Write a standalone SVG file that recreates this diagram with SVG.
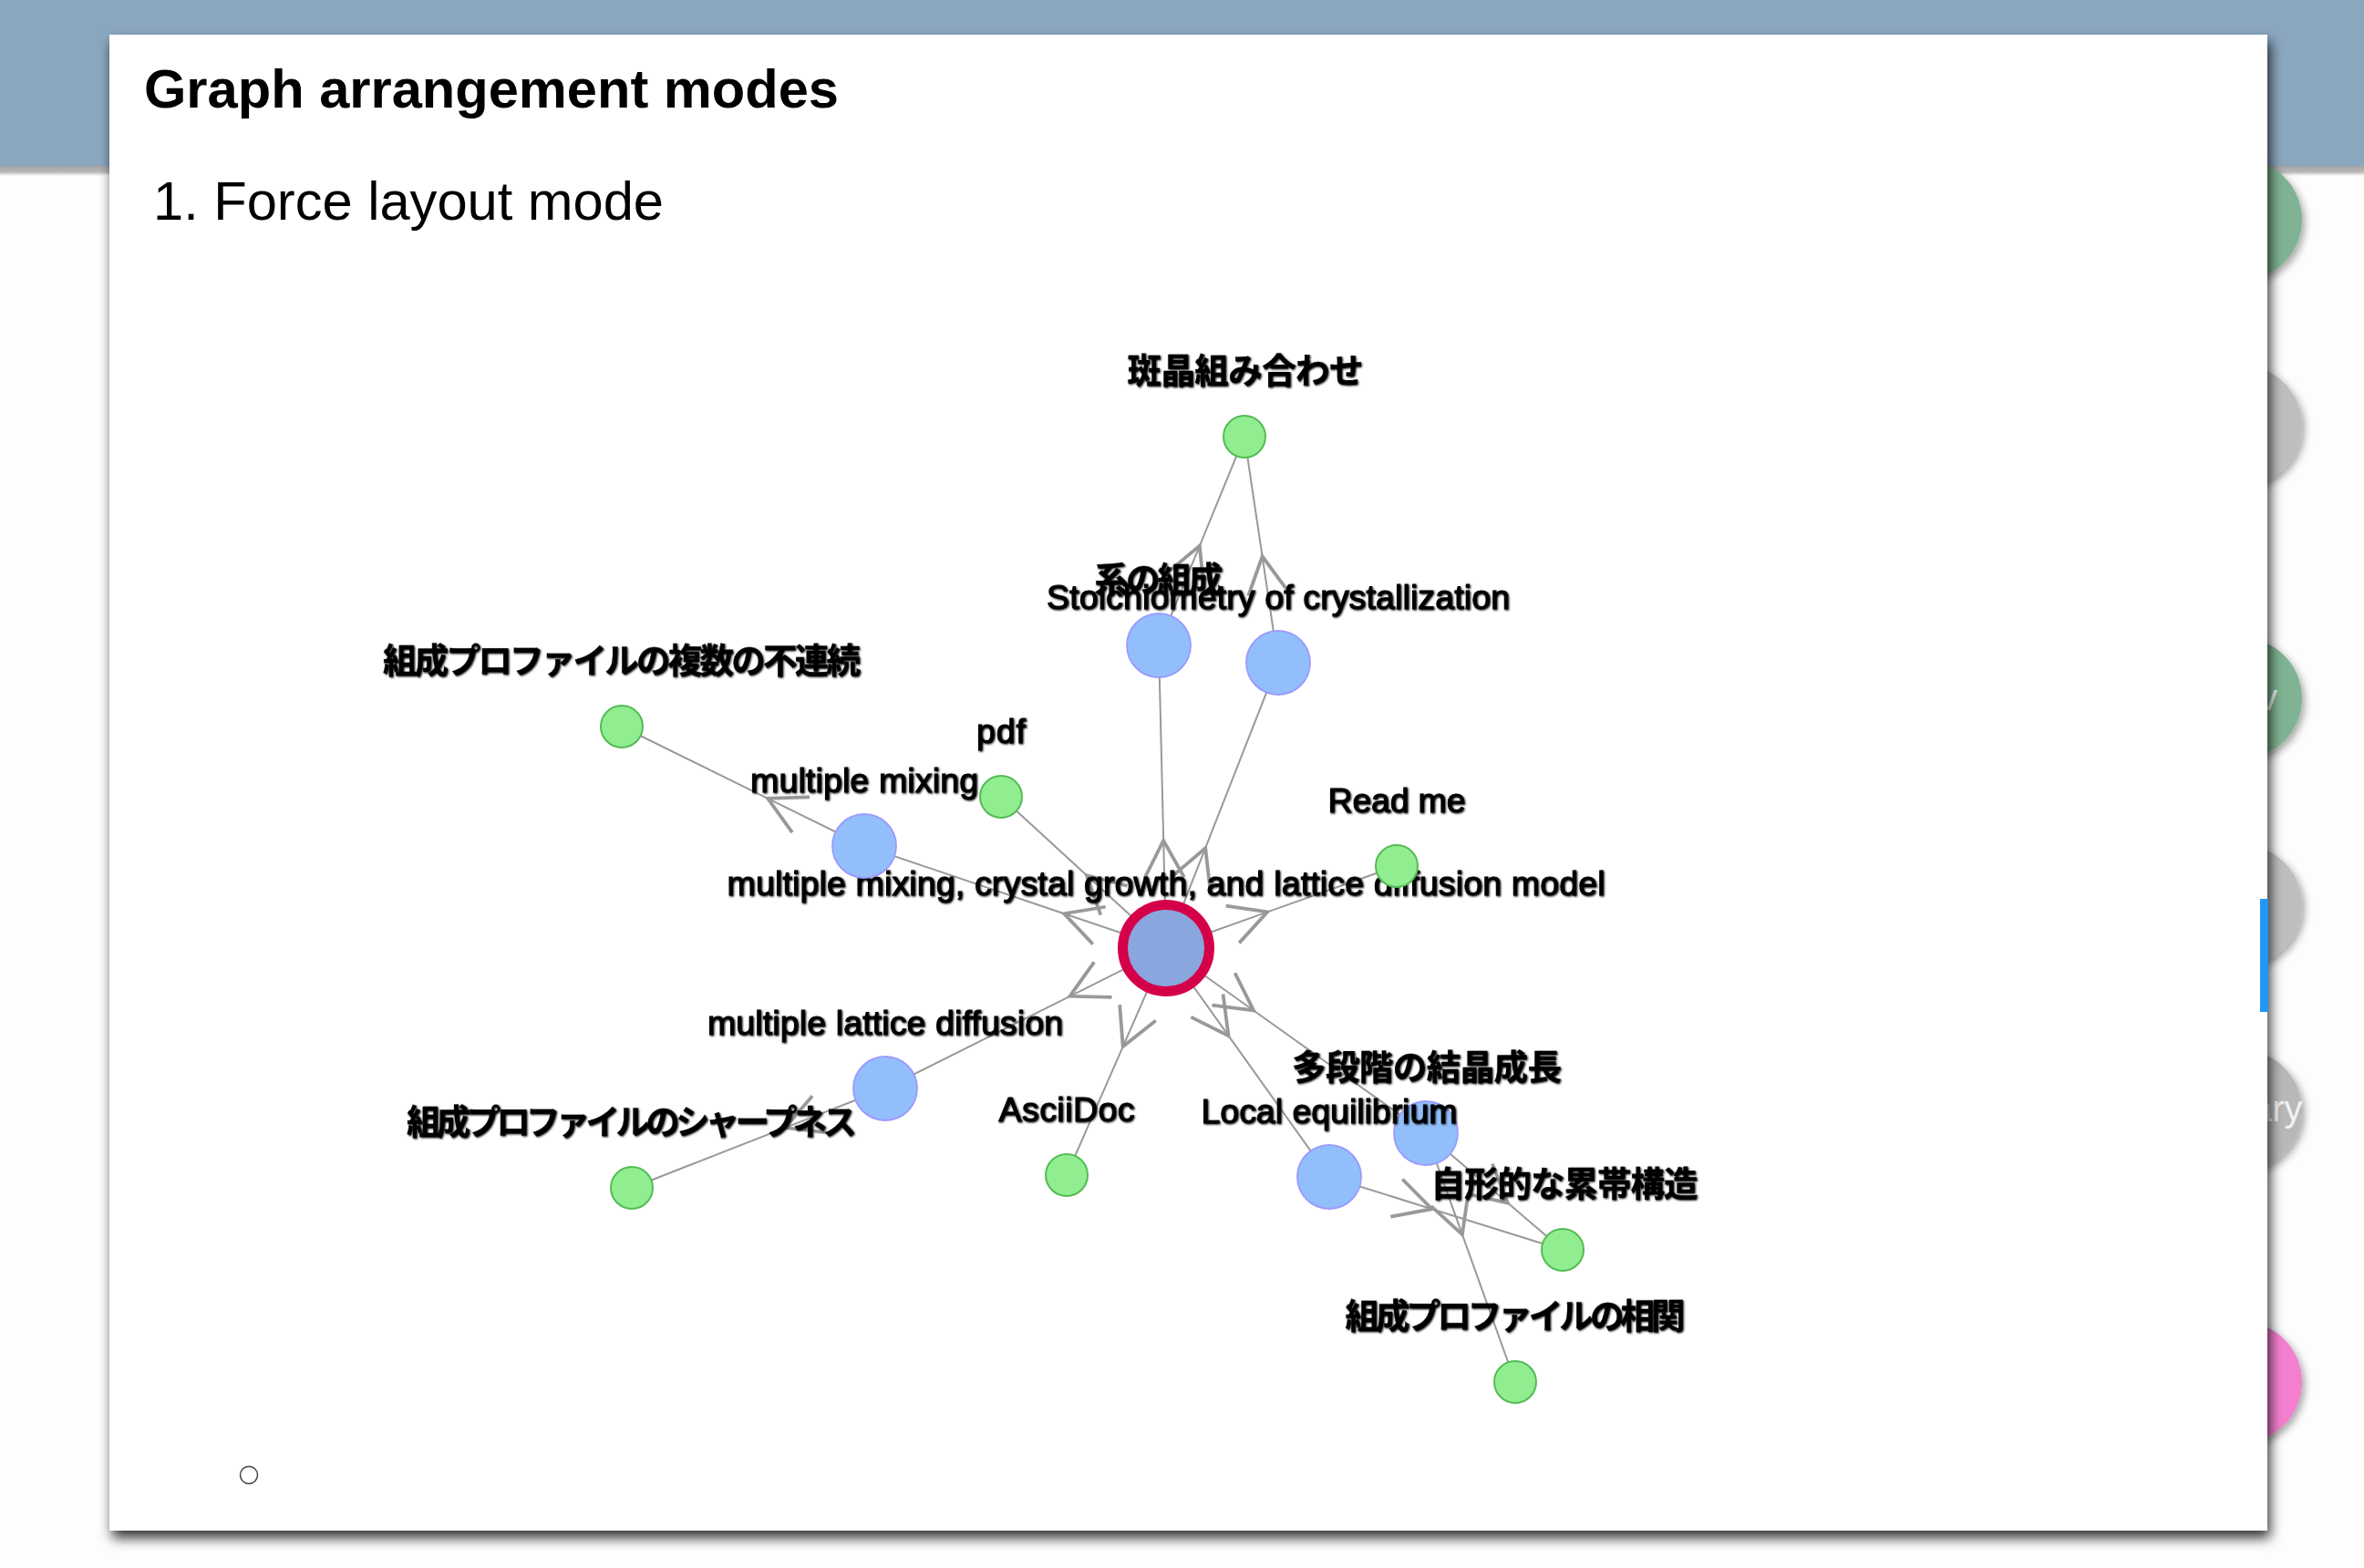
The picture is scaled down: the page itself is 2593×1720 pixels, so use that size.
<svg xmlns="http://www.w3.org/2000/svg" width="2593" height="1720" viewBox="0 0 2593 1720">
<style>
.lbl{font-family:"Liberation Sans",Arial,"Noto Sans CJK JP",sans-serif;font-size:37.5px;fill:#000;stroke:#000;stroke-width:1px;text-anchor:middle}
.jp{font-family:"Liberation Sans","Noto Sans CJK JP",sans-serif;font-weight:bold;stroke-width:0.3px}
.edge{fill:none;stroke:#999;stroke-width:2;marker-mid:url(#arr)}
.g{fill:#90EE90;stroke:#55BB55;stroke-width:2}
.b{fill:#92BFFB;stroke:#9A9AFF;stroke-width:1.8}
.btn{filter:url(#bsh)}
</style>
<defs>
<marker id="arr" markerUnits="userSpaceOnUse" orient="auto" markerWidth="100" markerHeight="100" viewBox="-50 -50 100 100" refX="0" refY="0" overflow="visible">
<path d="M-40.6,-21.6 L0,0 L-40.6,21.6" fill="none" stroke="#999" stroke-width="3.8"/>
</marker>
<filter id="ts" x="-5%" y="-40%" width="110%" height="180%">
<feGaussianBlur in="SourceAlpha" stdDeviation="1.2" result="bl"/>
<feOffset in="bl" dx="1" dy="1" result="of"/>
<feMerge><feMergeNode in="of"/><feMergeNode in="SourceGraphic"/></feMerge>
</filter>
<filter id="csh" x="-5%" y="-5%" width="110%" height="110%">
<feDropShadow dx="3" dy="8" stdDeviation="7" flood-color="#000" flood-opacity="0.8"/>
</filter>
<filter id="bsh" x="-30%" y="-30%" width="160%" height="160%">
<feDropShadow dx="3" dy="4" stdDeviation="4" flood-color="#000" flood-opacity="0.35"/>
</filter>
<linearGradient id="bandsh" x1="0" y1="0" x2="0" y2="1">
<stop offset="0" stop-color="#a4a4a4"/>
<stop offset="0.6" stop-color="#b8b8b8"/>
<stop offset="1" stop-color="#fdfdfd"/>
</linearGradient>
<clipPath id="cardclip"><rect x="120" y="38" width="2367" height="1641"/></clipPath>
</defs>

<rect x="0" y="0" width="2593" height="1720" fill="#fdfdfd"/>
<rect x="0" y="0" width="2593" height="182" fill="#8BA6BF"/>
<rect x="0" y="182" width="2593" height="11" fill="url(#bandsh)"/>

<g id="side-buttons">
<circle class="btn" cx="2459" cy="241" r="66" fill="#7FB393"/>
<circle class="btn" cx="2459" cy="467" r="66" fill="#BEBEBE"/>
<circle class="btn" cx="2459" cy="766" r="66" fill="#7FB393"/>
<text x="2478" y="779" font-family="Liberation Sans,Arial,sans-serif" font-size="40" fill="#f2f2f2">v</text>
<circle class="btn" cx="2459" cy="993" r="66" fill="#BEBEBE"/>
<circle class="btn" cx="2459" cy="1218" r="66" fill="#B8B8B8"/>
<text x="2470" y="1230" font-family="Liberation Sans,Arial,sans-serif" font-size="40" fill="#f2f2f2">ary</text>
<circle class="btn" cx="2459" cy="1516" r="66" fill="#F47FCF"/>
</g>

<rect id="card" x="120" y="38" width="2367" height="1641" fill="#ffffff" filter="url(#csh)"/>
<rect x="2479" y="986" width="9" height="124" fill="#2196F3"/>

<text x="158" y="118" font-family="Liberation Sans,Arial,sans-serif" font-weight="bold" font-size="59" fill="#000" textLength="762" lengthAdjust="spacingAndGlyphs">Graph arrangement modes</text>
<text x="168" y="241" font-family="Liberation Sans,Arial,sans-serif" font-size="59" fill="#000" textLength="560" lengthAdjust="spacingAndGlyphs">1. Force layout mode</text>

<g clip-path="url(#cardclip)">
<circle cx="273" cy="1618" r="9.5" fill="none" stroke="#444" stroke-width="1.5"/>
<circle cx="273" cy="1689" r="10" fill="#555"/>
</g>

<g id="connectors">
<path class="edge" d="M1279,1040 L1276.2,922 L1271,708"/>
<path class="edge" d="M1279,1040 L1322.2,930.2 L1402,727"/>
<path class="edge" d="M1279,1040 L1192,960.2 L1098,874"/>
<path class="edge" d="M1279,1040 L1167.2,1002.2 L948,928"/>
<path class="edge" d="M1279,1040 L1390.2,1000.4 L1532,950"/>
<path class="edge" d="M1279,1040 L1173.5,1092.8 L971,1194"/>
<path class="edge" d="M1279,1040 L1231.7,1148.1 L1170,1289"/>
<path class="edge" d="M1279,1040 L1347.5,1136.1 L1458,1291"/>
<path class="edge" d="M1279,1040 L1375.1,1108.5 L1564,1243"/>
<path class="edge" d="M1271,708 L1315.8,598.8 L1365,479"/>
<path class="edge" d="M1402,727 L1384.6,610.3 L1365,479"/>
<path class="edge" d="M948,928 L842.1,875.9 L682,797"/>
<path class="edge" d="M971,1194 L861.1,1237.1 L693,1303"/>
<path class="edge" d="M1458,1291 L1570.6,1326.2 L1714,1371"/>
<path class="edge" d="M1564,1243 L1653.8,1319.6 L1714,1371"/>
<path class="edge" d="M1564,1243 L1603.9,1354.1 L1662,1516"/>
</g>

<g id="node-center">
<circle cx="1279" cy="1040" r="47.5" fill="#8AA6DE" stroke="#D5004A" stroke-width="11"/>
<text class="lbl" filter="url(#ts)" x="1279" y="982" textLength="963">multiple mixing, crystal growth, and lattice diffusion model</text>
</g>
<g id="node-kei">
<circle class="b" cx="1271" cy="708" r="35"/>
<text class="lbl jp" filter="url(#ts)" x="1271" y="649" textLength="141">系の組成</text>
</g>
<g id="node-stoich">
<circle class="b" cx="1402" cy="727" r="35"/>
<text class="lbl" filter="url(#ts)" x="1402" y="668" textLength="508">Stoichiometry of crystallization</text>
</g>
<g id="node-hansho">
<circle class="g" cx="1365" cy="479" r="23"/>
<text class="lbl jp" filter="url(#ts)" x="1366" y="420" textLength="259">斑晶組み合わせ</text>
</g>
<g id="node-fukusu">
<circle class="g" cx="682" cy="797" r="23"/>
<text class="lbl jp" filter="url(#ts)" x="682" y="738" textLength="524">組成プロファイルの複数の不連続</text>
</g>
<g id="node-pdf">
<circle class="g" cx="1098" cy="874" r="23"/>
<text class="lbl" filter="url(#ts)" x="1098" y="815" textLength="54">pdf</text>
</g>
<g id="node-mm">
<circle class="b" cx="948" cy="928" r="35"/>
<text class="lbl" filter="url(#ts)" x="948" y="869" textLength="250">multiple mixing</text>
</g>
<g id="node-readme">
<circle class="g" cx="1532" cy="950" r="23"/>
<text class="lbl" filter="url(#ts)" x="1532" y="891" textLength="151">Read me</text>
</g>
<g id="node-lattice">
<circle class="b" cx="971" cy="1194" r="35"/>
<text class="lbl" filter="url(#ts)" x="971" y="1135" textLength="390">multiple lattice diffusion</text>
</g>
<g id="node-sharp">
<circle class="g" cx="693" cy="1303" r="23"/>
<text class="lbl jp" filter="url(#ts)" x="693" y="1244" textLength="494">組成プロファイルのシャープネス</text>
</g>
<g id="node-ascii">
<circle class="g" cx="1170" cy="1289" r="23"/>
<text class="lbl" filter="url(#ts)" x="1170" y="1230" textLength="149">AsciiDoc</text>
</g>
<g id="node-tadankai">
<circle class="b" cx="1564" cy="1243" r="35"/>
<text class="lbl jp" filter="url(#ts)" x="1565" y="1184" textLength="296">多段階の結晶成長</text>
</g>
<g id="node-local">
<circle class="b" cx="1458" cy="1291" r="35"/>
<text class="lbl" filter="url(#ts)" x="1458" y="1232" textLength="281">Local equilibrium</text>
</g>
<g id="node-jikei">
<circle class="g" cx="1714" cy="1371" r="23"/>
<text class="lbl jp" filter="url(#ts)" x="1716" y="1312" textLength="293">自形的な累帯構造</text>
</g>
<g id="node-soukan">
<circle class="g" cx="1662" cy="1516" r="23"/>
<text class="lbl jp" filter="url(#ts)" x="1662" y="1457" textLength="373">組成プロファイルの相関</text>
</g>
</svg>
